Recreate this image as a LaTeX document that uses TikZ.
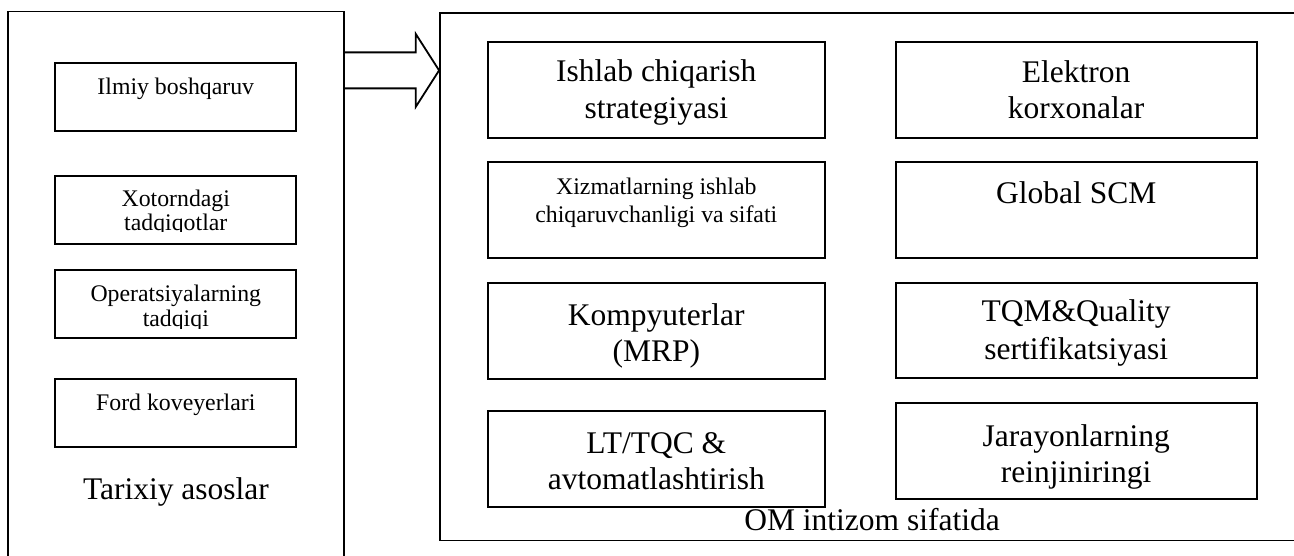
\documentclass[tikz,border=0pt]{standalone}
\usepackage{fontspec}
\setmainfont{Liberation Serif}
\usetikzlibrary{calc}

% rectangle node given by its corners (x1,y1) and (x2,y2), y measured downwards
\newcommand\cellbox[5]{%
  \node[cell, minimum width={#4-#2}, minimum height={#5-#3}]
    (#1) at ({(#2+#4)/2},{(#3+#5)/2}) {};}

\begin{document}
\begin{tikzpicture}[
  x=1pt, y=-1pt,
  cell/.style={draw=black, line width=1.8pt, inner sep=0pt, fill=none},
  big/.style={inner sep=0pt, anchor=base, font=\fontsize{31.5}{36}\selectfont},
  small/.style={inner sep=0pt, anchor=base, font=\fontsize{23.8}{27}\selectfont},
  arrowline/.style={draw=black, line width=1.8pt, line join=miter},
]
\useasboundingbox (0,0) rectangle (1294,556);
\clip (0,0) rectangle (1294,556);
\fill[white] (0,0) rectangle (1294,556);

% outer frames
\cellbox{hist}{8}{11.5}{344}{580}
\cellbox{om}{440}{13}{1300}{540.5}

% historical foundations
\cellbox{h1}{55.3}{62.7}{296.3}{130.7}
\cellbox{h2}{55.3}{176}{296.3}{243.7}
\cellbox{h3}{55.3}{270}{296.3}{337.7}
\cellbox{h4}{55.3}{379}{296.3}{446.7}

\node[small] (h1a) at (175.8,95) {Ilmiy boshqaruv};
\node[small] (h2a) at (175.8,206.7) {Xotorndagi};
\begin{scope}
  \clip (55.3,176) rectangle (296.3,232);
  \node[small] (h2b) at (175.8,231) {tadqiqotlar};
\end{scope}
\node[small] (h3a) at (175.8,301.7) {Operatsiyalarning};
\begin{scope}
  \clip (55.3,270) rectangle (296.3,328.3);
  \node[small] (h3b) at (175.8,326.7) {tadqiqi};
\end{scope}
\node[small] (h4a) at (175.8,410.7) {Ford koveyerlari};
\node[big] (histlabel) at (176,499) {Tarixiy asoslar};

% OM as a discipline, first column
\cellbox{a1}{487.7}{41.7}{825}{137.7}
\cellbox{a2}{487.7}{162}{825}{258}
\cellbox{a3}{487.7}{283.3}{825}{379}
\cellbox{a4}{487.7}{411}{825}{507.3}

\node[big] (a1a) at (656.3,81.7) {Ishlab chiqarish};
\node[big] (a1b) at (656.3,118.3) {strategiyasi};
\node[small] (a2a) at (656.3,195) {Xizmatlarning ishlab};
\node[small] (a2b) at (656.3,222.5) {chiqaruvchanligi va sifati};
\node[big] (a3a) at (656.3,325) {Kompyuterlar};
\node[big] (a3b) at (656.3,361.5) {(MRP)};
\node[big] (a4a) at (656.3,453) {LT/TQC \&};
\node[big] (a4b) at (656.3,489.5) {avtomatlashtirish};

% OM as a discipline, second column
\cellbox{b1}{895.7}{41.7}{1256.7}{137.7}
\cellbox{b2}{895.7}{162}{1256.7}{257.7}
\cellbox{b3}{895.7}{283.3}{1256.7}{378.3}
\cellbox{b4}{895.7}{402.7}{1256.7}{498.7}

\node[big] (b1a) at (1076.2,82.5) {Elektron};
\node[big] (b1b) at (1076.2,119) {korxonalar};
\node[big] (b2a) at (1076.2,203.3) {Global SCM};
\node[big] (b3a) at (1076.2,322) {TQM\&Quality};
\node[big] (b3b) at (1076.2,359) {sertifikatsiyasi};
\node[big] (b4a) at (1076.2,446) {Jarayonlarning};
\node[big] (b4b) at (1076.2,482.7) {reinjiniringi};

\node[big] (omlabel) at (872,530.7) {OM intizom sifatida};

% block arrow from the history frame to the OM frame
\coordinate (arrowtail) at (hist.east |- 0,70.4);
\coordinate (arrowtip) at (om.west |- 0,70.4);
\draw[arrowline]
  ($(arrowtail)+(0,-18)$) -- ($(arrowtip)+(-23.3,-18)$) -- ($(arrowtip)+(-23.3,-36.4)$)
  -- (arrowtip)
  -- ($(arrowtip)+(-23.3,36.4)$) -- ($(arrowtip)+(-23.3,18)$) -- ($(arrowtail)+(0,18)$);
\end{tikzpicture}
\end{document}
